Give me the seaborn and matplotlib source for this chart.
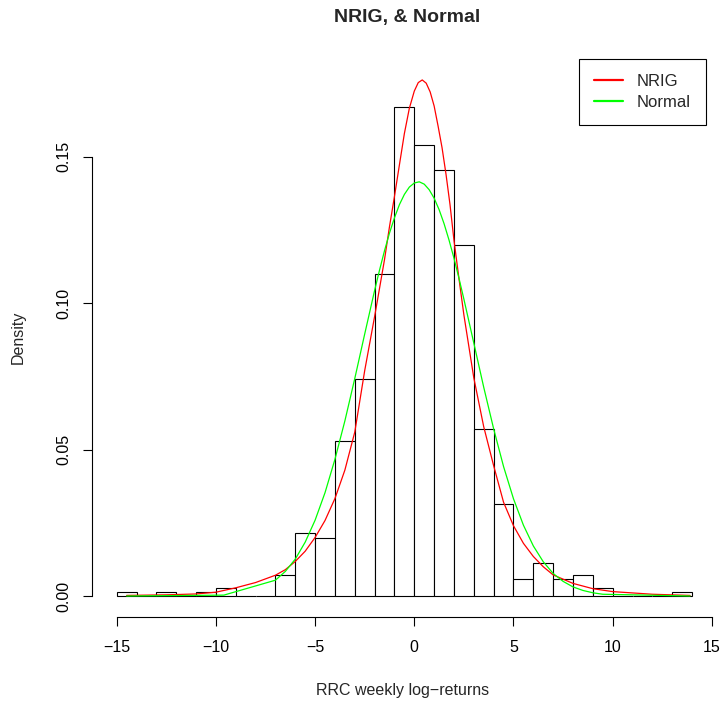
import matplotlib
matplotlib.use("Agg")
import matplotlib.pyplot as plt
from matplotlib.lines import Line2D
import seaborn as sns

# ---- data ----
bin_edges = list(range(-15, 15))  # -15 .. 14, width 1
bin_centers = [b + 0.5 for b in range(-15, 14)]
bin_density = [0.0014, 0.0, 0.0014, 0.0, 0.0014, 0.0028, 0.0, 0.0, 0.0071, 0.0214,
               0.0199, 0.0528, 0.0741, 0.1099, 0.1671, 0.1542, 0.1455, 0.1198, 0.0571, 0.0313,
               0.0057, 0.0114, 0.0057, 0.0071, 0.0028, 0.0, 0.0, 0.0, 0.0014]

nrig_x = [-14.5, -12.5, -11, -10, -9, -8, -7, -6.5, -6, -5.5, -5, -4.5, -4, -3.5, -3,
          -2.5, -2, -1.75, -1.5, -1.25, -1, -0.75, -0.5, -0.25, 0, 0.2, 0.4, 0.6, 0.8,
          1.0, 1.2, 1.4, 1.6, 1.8, 2.0, 2.25, 2.5, 3, 3.5, 4, 4.5, 5,
          5.5, 6, 6.5, 7, 8, 9, 10, 12, 13.9]
nrig_y = [0.0002, 0.0004, 0.0007, 0.0013, 0.0028, 0.0046, 0.0071, 0.0090, 0.0118, 0.0153,
          0.0200, 0.0258, 0.0333, 0.0430, 0.0560, 0.0770, 0.0955, 0.1052, 0.1150, 0.1262,
          0.1365, 0.1473, 0.1580, 0.1666, 0.1725, 0.1754, 0.1763, 0.1752, 0.1722,
          0.1674, 0.1605, 0.1531, 0.1440, 0.1337, 0.1215, 0.1085, 0.0960, 0.0745, 0.0578,
          0.0445, 0.0320, 0.0240, 0.0180, 0.0135, 0.0100, 0.0072, 0.0043, 0.0025, 0.0015,
          0.0006, 0.0002]

norm_x = [-14.5, -9.6, -7, -6.5, -6, -5.5, -5, -4.5, -4, -3.5, -3, -2.5, -2, -1.75, -1.5,
          -1.25, -1, -0.75, -0.5, -0.25, 0, 0.25, 0.5, 0.75, 1, 1.25, 1.5, 1.75, 2, 2.25,
          2.5, 3, 3.5, 4, 4.5, 5, 5.5, 6, 6.5, 7, 7.5, 8, 8.5, 9, 9.5, 13.9]
norm_y = [0.0, 0.0003, 0.0054, 0.0084, 0.0126, 0.0184, 0.0259, 0.0353, 0.0467, 0.0598,
          0.0743, 0.0895, 0.1044, 0.1114, 0.1180, 0.1240, 0.1292, 0.1337, 0.1372, 0.1397,
          0.1411, 0.1415, 0.1407, 0.1388, 0.1359, 0.1320, 0.1272, 0.1216, 0.1154, 0.1086,
          0.1014, 0.0864, 0.0713, 0.0571, 0.0442, 0.0332, 0.0242, 0.0171, 0.0117,
          0.0077, 0.0050, 0.0031, 0.0019, 0.0011, 0.0006, 0.0]

x_ticks = [-15, -10, -5, 0, 5, 10, 15]
y_ticks = [0.00, 0.05, 0.10, 0.15]
y_tick_labels = ["0.00", "0.05", "0.10", "0.15"]
title = "NRIG, & Normal"
x_label = "RRC weekly log\u2212returns"
y_label = "Density"
legend_labels = ["NRIG", "Normal"]
legend_colors = ["#FF0000", "#00FF00"]

# ---- styling ----
sns.set_style("white")
plt.rcParams["font.family"] = ["Liberation Sans", "DejaVu Sans"]
plt.rcParams["axes.unicode_minus"] = True

W, H = 723, 709
fig = plt.figure(figsize=(W / 100, H / 100), dpi=100)
left_px, right_px, top_px, bot_px = 92, 714, 57.7, 616.7
ax = fig.add_axes([left_px / W, (H - bot_px) / H, (right_px - left_px) / W, (bot_px - top_px) / H])

sns.histplot(x=bin_centers, weights=bin_density, bins=bin_edges, stat="count",
             color="white", edgecolor="black", linewidth=0.8, alpha=1.0, ax=ax)

sns.lineplot(x=nrig_x, y=nrig_y, color=legend_colors[0], linewidth=0.9, ax=ax,
             estimator=None, sort=False)
sns.lineplot(x=norm_x, y=norm_y, color=legend_colors[1], linewidth=0.9, ax=ax,
             estimator=None, sort=False)

ax.set_xlim(-16.245, 15.106)
ax.set_ylim(-0.00707, 0.1839)

for s in ["top", "right"]:
    ax.spines[s].set_visible(False)
ax.spines["left"].set_bounds(0, 0.15)
ax.spines["bottom"].set_bounds(-15, 15)
for s in ["left", "bottom"]:
    ax.spines[s].set_linewidth(0.8)
    ax.spines[s].set_color("black")

ax.set_xticks(x_ticks)
ax.set_xticklabels([f"{t}".replace("-", "\u2212") for t in x_ticks])
ax.set_yticks(y_ticks)
ax.set_yticklabels(y_tick_labels, rotation=90, va="center")
ax.tick_params(axis="both", which="major", direction="out", length=6.5, width=0.8,
               color="black", labelsize=11.5, labelcolor="black",
               bottom=True, left=True)
ax.tick_params(axis="x", pad=10)
ax.tick_params(axis="y", pad=8)
ax.set_xlabel("")
ax.set_ylabel("")
ax.grid(False)

fig.text(403 / W, 1 - 690 / H, x_label, ha="center", va="center", fontsize=11.5)
fig.text(18 / W, 1 - 337 / H, y_label, ha="center", va="center", rotation=90, fontsize=11.5)
fig.text(407 / W, 1 - 17.5 / H, title, ha="center", va="center", fontsize=14, fontweight="bold")

handles = [Line2D([0], [0], color=c, lw=1.6) for c in legend_colors]
leg = ax.legend(handles, legend_labels, loc="upper right",
                bbox_to_anchor=(706 / W, 1 - 59.3 / H), bbox_transform=fig.transFigure,
                frameon=True, fancybox=False, edgecolor="black", framealpha=1,
                borderaxespad=0, fontsize=12, handlelength=1.75, handletextpad=0.85,
                labelspacing=0.35, borderpad=0.9)
leg.get_frame().set_linewidth(0.8)

fig.savefig("out.png", dpi=100)
